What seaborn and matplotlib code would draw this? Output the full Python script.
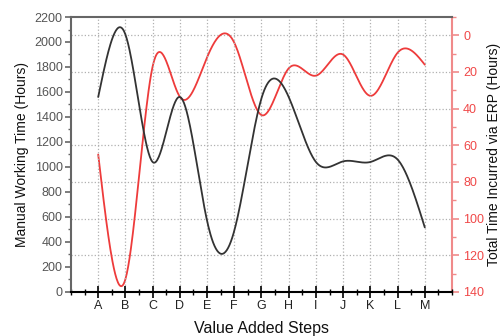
import numpy as np
import matplotlib
matplotlib.use("Agg")
import matplotlib.pyplot as plt
import seaborn as sns
from matplotlib.ticker import MultipleLocator

# ---- Data ----
steps = list("ABCDEFGHIJKLM")
manual_hours = [1560, 2060, 1040, 1560, 570, 490, 1550, 1560, 1040, 1045, 1040, 1060, 517]
erp_hours = [65, 133, 17, 33.5, 12, 4, 43.5, 18, 22, 10.5, 33, 9.5, 16]


def natural_spline(values, n=40):
    """Natural cubic spline through the category points (positions 1..N)."""
    y = np.asarray(values, dtype=float)
    k = len(y)
    x = np.arange(1, k + 1, dtype=float)
    A = np.zeros((k, k))
    b = np.zeros(k)
    A[0, 0] = A[-1, -1] = 1
    for i in range(1, k - 1):
        A[i, i - 1], A[i, i], A[i, i + 1] = 1, 4, 1
        b[i] = 6 * (y[i + 1] - 2 * y[i] + y[i - 1])
    M = np.linalg.solve(A, b)
    xs = np.linspace(1, k, (k - 1) * n + 1)
    idx = np.clip(np.floor(xs - 1).astype(int), 0, k - 2)
    t = xs - x[idx]
    ys = (M[idx] * (1 - t) ** 3 + M[idx + 1] * t ** 3) / 6 \
        + (y[idx] - M[idx] / 6) * (1 - t) + (y[idx + 1] - M[idx + 1] / 6) * t
    return xs, ys


sns.set_theme(style="ticks")
plt.rcParams["font.family"] = ["Liberation Sans", "DejaVu Sans"]

fig, ax = plt.subplots(figsize=(5.02, 3.36), dpi=100)
fig.subplots_adjust(left=0.1414, right=0.9004, top=0.9494, bottom=0.131)
ax2 = ax.twinx()
ax.set_zorder(ax2.get_zorder() + 1)
ax.patch.set_visible(False)

red = "#ee3b3b"
red_axis = "#f08a8a"

xs, ys = natural_spline(manual_hours)
sns.lineplot(x=xs, y=ys, ax=ax, color="#333333", lw=1.3)
xs2, ys2 = natural_spline(erp_hours)
sns.lineplot(x=xs2, y=ys2, ax=ax2, color=red, lw=1.3)

ax.set_xlim(0, 14)
ax.set_ylim(0, 2200)
ax2.set_ylim(140, -10)

ax.set_xticks(range(1, len(steps) + 1), steps)
ax.xaxis.set_minor_locator(MultipleLocator(0.5))
ax.set_yticks(range(0, 2201, 200))
ax.yaxis.set_minor_locator(MultipleLocator(100))
ax2.set_yticks(range(0, 141, 20))
ax2.yaxis.set_minor_locator(MultipleLocator(10))

# grid: vertical at steps, horizontal at right-axis ticks
ax.xaxis.grid(True, which="major", ls=":", color="#b0b0b0", lw=0.9)
ax2.yaxis.grid(True, which="major", ls=":", color="#b0b0b0", lw=0.9)

for s in ["left", "top"]:
    ax.spines[s].set_color("#666666")
    ax.spines[s].set_linewidth(1.5)
ax.spines["bottom"].set_color("black")
ax.spines["bottom"].set_linewidth(1.5)
ax.spines["right"].set_visible(False)
for s in ["left", "top", "bottom"]:
    ax2.spines[s].set_visible(False)
ax2.spines["right"].set_color(red_axis)
ax2.spines["right"].set_linewidth(1.5)

ax.tick_params(axis="x", which="major", direction="inout", length=8, width=1.2,
               color="black", labelsize=9, labelcolor="#222222", pad=2)
ax.tick_params(axis="x", which="minor", direction="inout", length=5, width=1, color="black")
ax.tick_params(axis="y", which="major", direction="out", length=4, width=1.2,
               color="#666666", labelsize=9, labelcolor="#555555", pad=2)
ax.tick_params(axis="y", which="minor", direction="out", length=2, width=1, color="#666666")
ax2.tick_params(axis="y", which="major", direction="out", length=5, width=1.2,
                color=red_axis, labelsize=9, labelcolor="#f04848", pad=3)
ax2.tick_params(axis="y", which="minor", direction="out", length=3, width=1, color=red_axis)

ax.set_xlabel("Value Added Steps", fontsize=11.5, color="#111111", labelpad=6)
ax.set_ylabel("Manual Working Time (Hours)", fontsize=10, color="#111111", labelpad=4)
ax2.set_ylabel("Total Time Incurred via ERP (Hours)", fontsize=10, color="#111111",
               rotation=90, labelpad=2)

fig.savefig("out.png", dpi=100)
plt.close(fig)
